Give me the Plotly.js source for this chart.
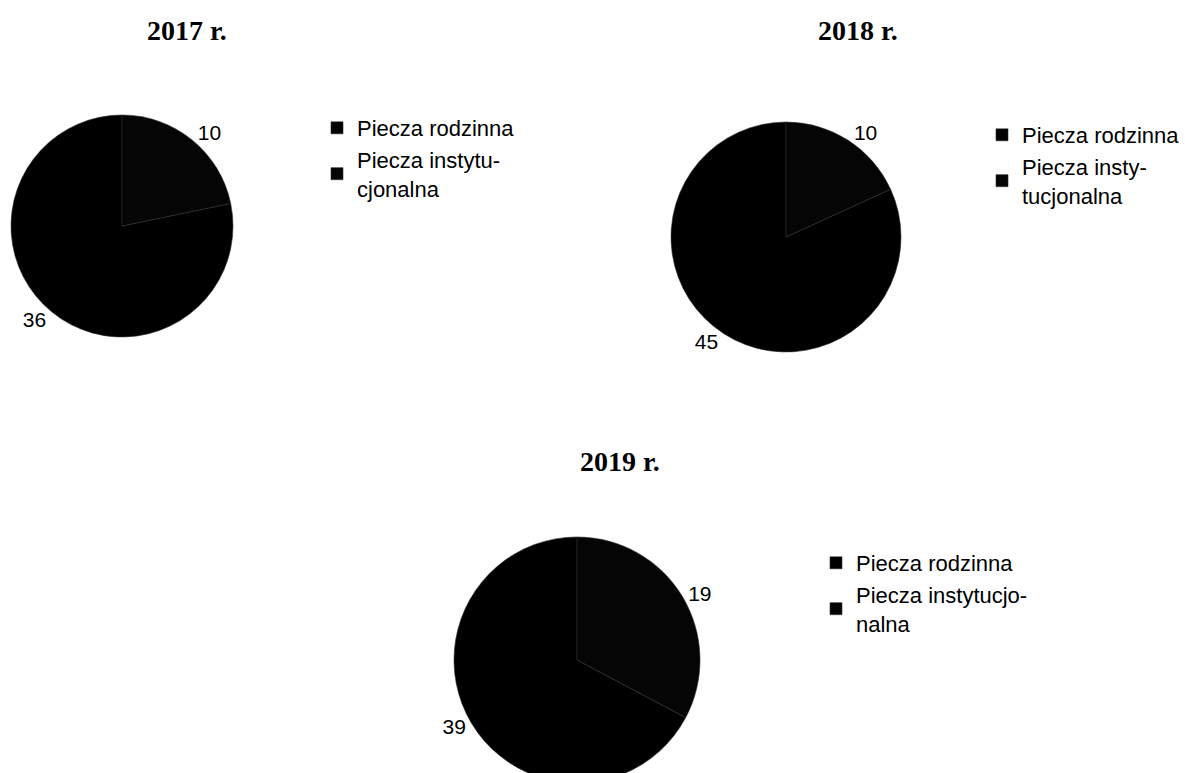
<!DOCTYPE html>
<html>
<head>
<meta charset="utf-8">
<script src="https://cdn.plot.ly/plotly-3.0.1.min.js"></script>
<style>
html,body{margin:0;padding:0;overflow:hidden;background:#fff;}
#chart{width:1185px;height:830px;}
</style>
</head>
<body>
<div id="chart"></div>
<script>
const years = ['2017 r.', '2018 r.', '2019 r.'];
const categories = ['Piecza rodzinna', 'Piecza instytucjonalna'];
const labels2017 = ['Piecza rodzinna', 'Piecza instytu-<br>cjonalna'];
const labels2018 = ['Piecza rodzinna', 'Piecza insty-<br>tucjonalna'];
const labels2019 = ['Piecza rodzinna', 'Piecza instytucjo-<br>nalna'];
const values2017 = [36, 10];
const values2018 = [45, 10];
const values2019 = [39, 19];

const W = 1185, H = 830;
const fx = px => px / W;
const fy = py => 1 - py / H;

const colors = ['#000000', '#050505'];
const labelFont = {family: 'Liberation Sans, Arial, sans-serif', size: 21, color: '#000'};

function pieTrace(labels, values, dom, legend, idx) {
  // zero-width suffix keeps each chart's legend entries separate
  const suffix = '\u200b'.repeat(idx);
  const total = values.reduce((a, b) => a + b, 0);
  return {
    type: 'pie',
    labels: labels.map(l => l + suffix),
    values: values,
    sort: false,
    direction: 'clockwise',
    // second slice begins at 12 o'clock, as in the original
    rotation: 360 * values[1] / total,
    textinfo: 'value',
    textposition: 'outside',
    outsidetextfont: labelFont,
    marker: {colors: colors, line: {color: '#2e2e2e', width: 0.6}},
    domain: dom,
    legend: legend,
    hoverinfo: 'label+value'
  };
}

const data = [
  pieTrace(labels2017, values2017, {x: [fx(11), fx(233)], y: [fy(337), fy(115)]}, 'legend', 0),
  pieTrace(labels2018, values2018, {x: [fx(671), fx(901)], y: [fy(352), fy(122)]}, 'legend2', 1),
  pieTrace(labels2019, values2019, {x: [fx(454), fx(700)], y: [fy(783), fy(537)]}, 'legend3', 2)
];

const legendFont = {family: 'Liberation Sans, Arial, sans-serif', size: 22, color: '#000'};
function legendDef(x, y) {
  return {x: x, y: y, xanchor: 'left', yanchor: 'top', font: legendFont, bgcolor: 'rgba(0,0,0,0)', tracegroupgap: 0, itemclick: false};
}

const titleFont = {family: 'Liberation Serif, Times New Roman, serif', size: 28, color: '#000'};
function titleAnn(text, px, py) {
  return {text: '<b>' + text + '</b>', x: fx(px), y: fy(py), xref: 'paper', yref: 'paper',
          xanchor: 'center', yanchor: 'middle', showarrow: false, font: titleFont};
}
const layout = {
  width: W, height: H,
  margin: {l: 0, r: 0, t: 0, b: 0},
  paper_bgcolor: '#fff',
  showlegend: true,
  legend: legendDef(fx(317), fy(107)),
  legend2: legendDef(fx(982), fy(114)),
  legend3: legendDef(fx(816), fy(542)),
  annotations: [
    titleAnn(years[0], 187, 30),
    titleAnn(years[1], 858, 30),
    titleAnn(years[2], 620, 461)
  ]
};

Plotly.newPlot('chart', data, layout, {displayModeBar: false, staticPlot: true});
</script>
</body>
</html>
